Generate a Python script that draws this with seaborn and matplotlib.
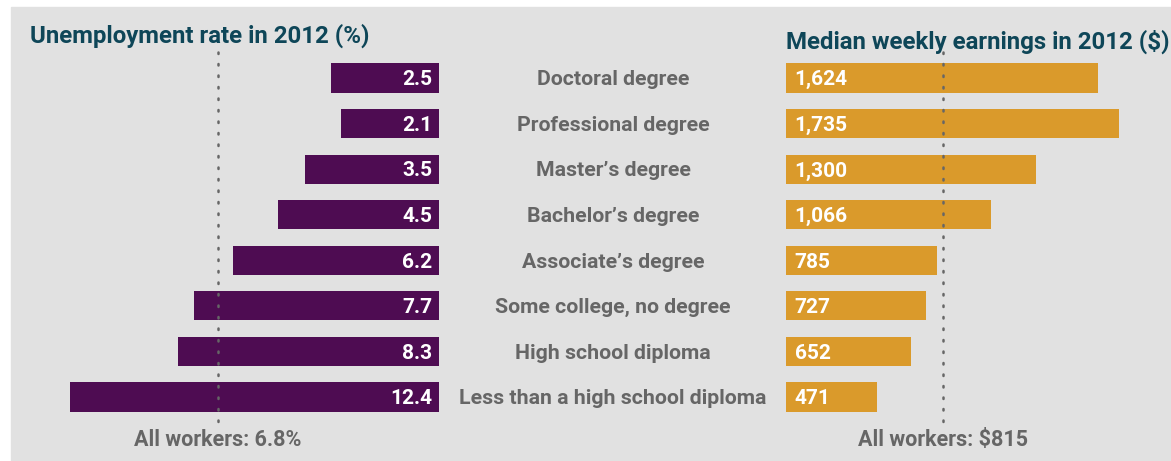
import numpy as np
import pandas as pd
import seaborn as sns
import matplotlib.pyplot as plt
from matplotlib.patches import Rectangle
from matplotlib.transforms import blended_transform_factory

# data
degrees = ["Doctoral degree", "Professional degree", "Master\u2019s degree",
           "Bachelor\u2019s degree", "Associate\u2019s degree",
           "Some college, no degree", "High school diploma",
           "Less than a high school diploma"]
unemployment = [2.5, 2.1, 3.5, 4.5, 6.2, 7.7, 8.3, 12.4]
earnings = [1624, 1735, 1300, 1066, 785, 727, 652, 471]
unemp_all = 6.8
earn_all = 815

PURPLE = "#4e0c52"
ORANGE = "#da9a2b"
BG = "#e1e1e1"
TITLE = "#0e4658"
GREY = "#666666"

sns.set_theme(style="white")
plt.rcParams['font.family'] = ['Roboto', 'DejaVu Sans']

W, H = 1171, 461
fig = plt.figure(figsize=(W / 100, H / 100), dpi=100)
fig.patches.append(Rectangle((11 / W, 0), 1 - 11 / W, 1 - 7 / H,
                             transform=fig.transFigure, color=BG, zorder=-10))

# pixel geometry
top_px, bot_px = 10, 460
row0_px, step_px = 78, 45.57
y_top = -(row0_px - top_px) / step_px
y_bot = y_top + (bot_px - top_px) / step_px

# left panel: bars grow leftwards from x=439 px, with a fixed label pad
pad = 1.6
l_left, l_right = 30, 439
l_scale = 26.36  # px per percentage point
axL = fig.add_axes([l_left / W, 1 - bot_px / H, (l_right - l_left) / W, (bot_px - top_px) / H])
dfL = pd.DataFrame({"degree": degrees, "rate": np.array(unemployment) + pad})
sns.barplot(data=dfL, x="rate", y="degree", orient="h", ax=axL, color=PURPLE,
            saturation=1, width=0.64, linewidth=0)
axL.set_xlim((l_right - l_left) / l_scale, 0)

# right panel: bars from x=786 px
r_left, r_right = 786, 1165
r_scale = 0.1922  # px per dollar
axR = fig.add_axes([r_left / W, 1 - bot_px / H, (r_right - r_left) / W, (bot_px - top_px) / H])
dfR = pd.DataFrame({"degree": degrees, "earn": earnings})
sns.barplot(data=dfR, x="earn", y="degree", orient="h", ax=axR, color=ORANGE,
            saturation=1, width=0.64, linewidth=0)
axR.set_xlim(0, (r_right - r_left) / r_scale)

for ax in (axL, axR):
    ax.set_ylim(y_bot, y_top)
    ax.set_facecolor("none")
    ax.axis("off")

dy = 0.04  # nudge text down a little to sit on the bar centre

# value labels
for i, v in enumerate(unemployment):
    axL.text(0.26, i + dy, f"{v:.1f}", color="white", fontsize=15, fontweight="bold",
             ha="right", va="center")
for i, v in enumerate(earnings):
    axR.text(45, i + dy, f"{v:,}", color="white", fontsize=15, fontweight="bold",
             ha="left", va="center")

# category labels in the middle
tr = blended_transform_factory(fig.transFigure, axL.transData)
for i, d in enumerate(degrees):
    axL.text(613 / W, i + dy, d, transform=tr, color=GREY, fontsize=15.3,
             fontweight="bold", ha="center", va="center", clip_on=False)

# "all workers" reference lines
y_line0, y_line1 = y_top + (52 - top_px) / step_px, y_top + (427 - top_px) / step_px
axL.plot([unemp_all + pad] * 2, [y_line0, y_line1], color=GREY, lw=1.8,
         ls=(0, (0.6, 4)), dash_capstyle="round", zorder=5, clip_on=False)
axR.plot([earn_all] * 2, [y_line0, y_line1], color=GREY, lw=1.8,
         ls=(0, (0.6, 4)), dash_capstyle="round", zorder=5, clip_on=False)
y_txt = y_top + (440 - top_px) / step_px
axL.text(unemp_all + pad, y_txt, f"All workers: {unemp_all}%", color=GREY,
         fontsize=15.5, fontweight="bold", ha="center", va="center", clip_on=False)
axR.text(earn_all, y_txt, f"All workers: ${earn_all}", color=GREY,
         fontsize=15.5, fontweight="bold", ha="center", va="center", clip_on=False)

# panel titles
fig.text(30 / W, 1 - 36 / H, "Unemployment rate in 2012 (%)", color=TITLE,
         fontsize=17.3, fontweight="bold", ha="left", va="center")
fig.text(786 / W, 1 - 42 / H, "Median weekly earnings in 2012 ($)", color=TITLE,
         fontsize=17.3, fontweight="bold", ha="left", va="center")

fig.savefig("out.png", dpi=100)
